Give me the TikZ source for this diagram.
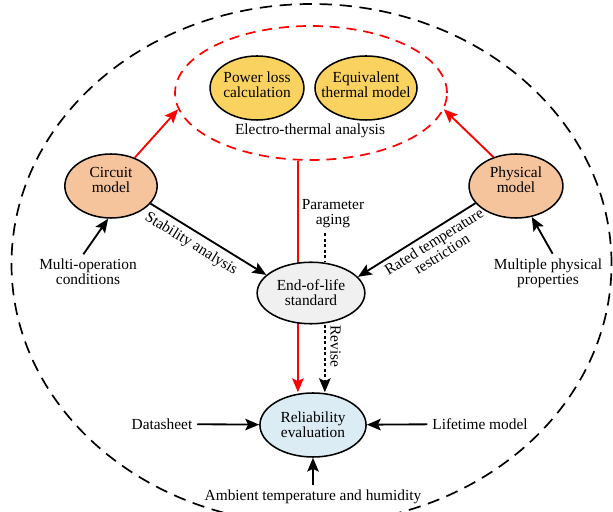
\documentclass[tikz,border=0pt]{standalone}
\usepackage{fontspec}
\setmainfont{Liberation Serif}
\usetikzlibrary{arrows.meta, shapes.geometric, backgrounds, positioning}

\definecolor{lossyellow}{RGB}{250,210,95}
\definecolor{modelorange}{RGB}{246,196,156}
\definecolor{eolgray}{RGB}{240,240,240}
\definecolor{relblue}{RGB}{220,236,244}

\begin{document}
\begin{tikzpicture}[
    x=0.65pt, y=-0.65pt,
    font=\fontsize{10pt}{9.6pt}\selectfont,
    bubble/.style={draw, ellipse, line width=1pt, inner sep=0pt},
    plain/.style={align=center, inner sep=3pt},
    arr/.style={-{Stealth[length=9pt, width=7.5pt, inset=1.8pt]}, line width=1.2pt},
    arrback/.style={{Stealth[length=9pt, width=7.5pt, inset=1.8pt]}-, line width=1.2pt},
    redarr/.style={arr, red},
    dotline/.style={line width=1.3pt, dash pattern=on 2pt off 1.6pt}
]

    % 1. Page frame and outer dashed boundary
    \useasboundingbox (0,0) rectangle (613,512);
    \clip (0,0) rectangle (613,512);
    \draw[line width=1.1pt, dash pattern=on 8pt off 5pt]
        (311.5,264) ellipse [x radius=195pt, y radius=169pt];

    % 2. Electro-thermal analysis block
    \node[bubble, draw=red, line width=1.1pt, dash pattern=on 6.5pt off 4.5pt,
          minimum width=176.8pt, minimum height=87.1pt] (thermal) at (311,93) {};
    \node[bubble, fill=lossyellow, minimum width=61pt, minimum height=41.6pt] (power) at (257,88) {};
    \node[bubble, fill=lossyellow, minimum width=66.3pt, minimum height=41.6pt] (equiv) at (366,88) {};
    \node[plain] (powertxt) at (257,85) {Power loss\\calculation};
    \node[plain] (equivtxt) at (366,85) {Equivalent\\thermal model};
    \node[plain] (etlabel) at (310,131) {Electro-thermal analysis};

    % 3. Models and standard
    \node[bubble, fill=modelorange, minimum width=60pt, minimum height=41.6pt] (circuit) at (111,186) {};
    \node[bubble, fill=modelorange, minimum width=61pt, minimum height=41.6pt] (physical) at (516,186) {};
    \node[bubble, fill=eolgray, minimum width=70pt, minimum height=40pt] (eol) at (311,293) {};
    \node[bubble, fill=relblue, minimum width=69pt, minimum height=41.6pt] (reliab) at (313,425) {};
    \node[plain] (circuittxt) at (111,180) {Circuit\\model};
    \node[plain] (physicaltxt) at (516,180) {Physical\\model};
    \node[plain] (eoltxt) at (311,293) {End-of-life\\standard};
    \node[plain] (reliabtxt) at (313,425) {Reliability\\evaluation};

    % 4. Inputs
    \node[plain] (multiop) at (88,272) {Multi-operation\\conditions};
    \node[plain] (physprop) at (548,273) {Multiple physical\\properties};
    \node[plain] (aging) at (333,214) {Parameter\\aging};
    \node[plain] (datasheet) at (162,424) {Datasheet};
    \node[plain] (lifetime) at (480,424) {Lifetime model};
    \node[plain] (ambient) at (313,497) {Ambient temperature and humidity};

    % 5. Red flow through the electro-thermal analysis
    \begin{pgfonlayer}{background}
        \draw[redarr] ([xshift=-8.5pt]thermal.south) -- ([xshift=-8.5pt]thermal.south |- reliab.north);
    \end{pgfonlayer}
    \draw[redarr] (circuit.50) -- (thermal.187);
    \draw[redarr] (physical.128) -- (thermal.-7);

    % 6. Black connectors
    \draw[arr] (circuit.-24) -- node[sloped, below, pos=0.41, inner sep=3.5pt] (stablbl) {Stability analysis} (eol.158);
    \draw[arrback] (eol.19) -- node[sloped, below, pos=0.6, align=center, inner sep=2.5pt] (ratedlbl) {Rated temperature\\restriction} (physical.203);
    \draw[arr] ([xshift=-3pt]multiop.north) -- (circuit.-95);
    \draw[arr] ([xshift=3pt]physprop.north) -- (physical.-63);
    \draw[arr] (datasheet) -- (reliab);
    \draw[arr] (lifetime) -- (reliab);
    \draw[arr] (ambient) -- (reliab);

    % 7. Dotted links
    \draw[dotline] ([xshift=-5pt]aging.south) -- ([xshift=-5pt]aging.south |- eol.north);
    \draw[arr, dotline] ([xshift=9pt]eol.south) -- node[sloped, above, pos=0.32, inner sep=3pt] (revlbl) {Revise} ([xshift=9pt]eol.south |- reliab.north);

\end{tikzpicture}
\end{document}
